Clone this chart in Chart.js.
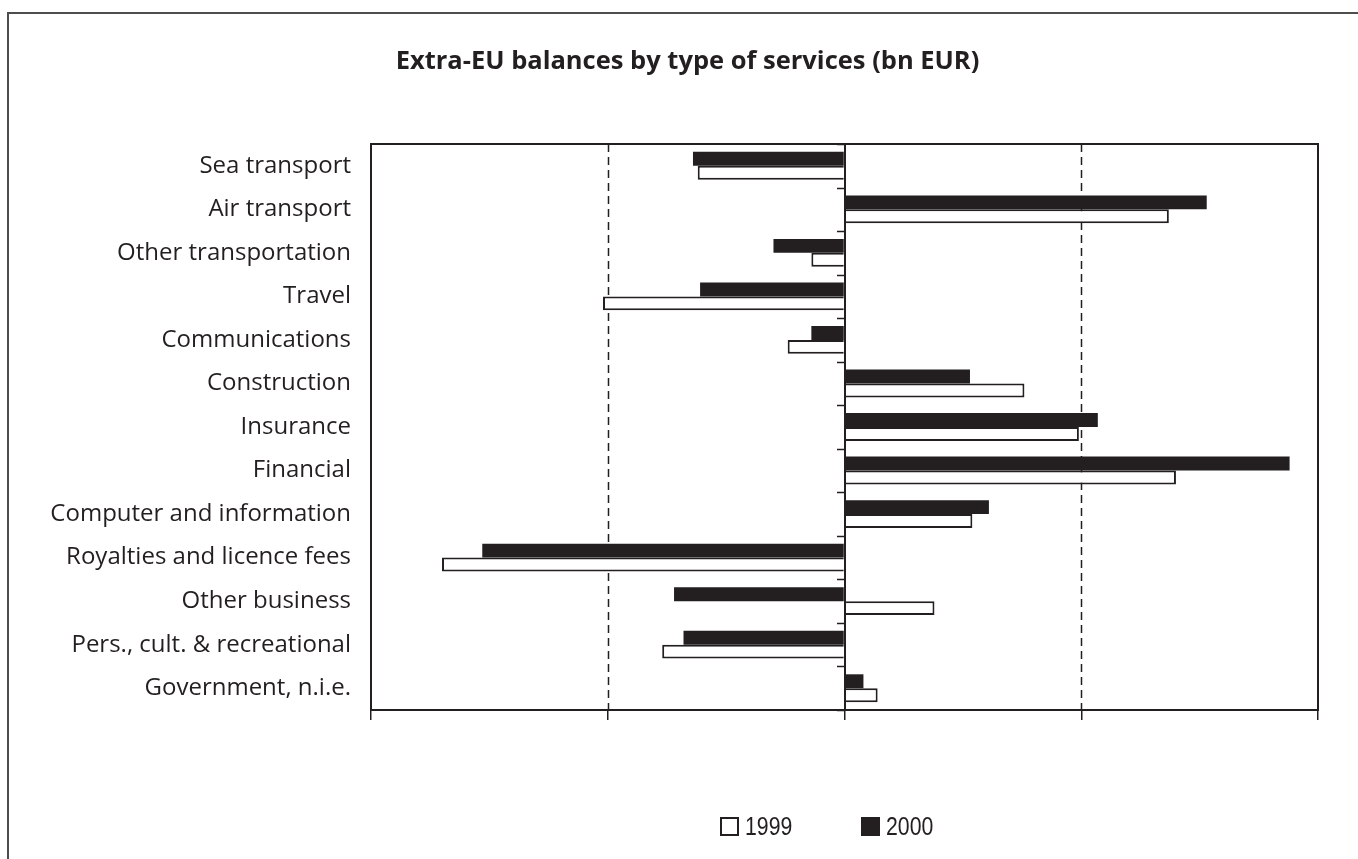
<!DOCTYPE html>
<html>
<head>
<meta charset="utf-8">
<script src="https://cdn.jsdelivr.net/npm/chart.js@4.4.0/dist/chart.umd.min.js"></script>
<style>
  html, body { margin: 0; padding: 0; background: #ffffff; }
  #wrap { position: relative; width: 1358px; height: 859px; overflow: hidden; }
  #c { position: absolute; left: 0; top: 0; }
  #legend {
    position: absolute; left: 720px; top: 813px; height: 24px;
    font-family: "Liberation Sans", Arial, sans-serif;
    font-size: 25px; color: #231f20; line-height: 1;
  }
  .item { position: relative; display: inline-block; width: 141px; height: 24px; vertical-align: top; }
  .box { position: absolute; left: 0; top: 4px; width: 19px; height: 19px; box-sizing: border-box; }
  .txt { position: absolute; left: 25px; top: 1px; transform: scaleX(0.85); transform-origin: 0 50%; white-space: nowrap; }
</style>
</head>
<body>
<div id="wrap">
  <canvas id="c" width="1358" height="859"></canvas>
  <div id="legend"></div>
</div>
<script>
// ---- data ----
const titleText = 'Extra-EU balances by type of services (bn EUR)';
const categories = [
  'Sea transport',
  'Air transport',
  'Other transportation',
  'Travel',
  'Communications',
  'Construction',
  'Insurance',
  'Financial',
  'Computer and information',
  'Royalties and licence fees',
  'Other business',
  'Pers., cult. & recreational',
  'Government, n.i.e.'
];
const seriesNames = ['1999', '2000'];
const values1999 = [-3.1, 6.85, -0.7, -5.1, -1.2, 3.8, 4.95, 7.0, 2.7, -8.5, 1.9, -3.85, 0.7];
const values2000 = [-3.2, 7.65, -1.5, -3.05, -0.7, 2.65, 5.35, 9.4, 3.05, -7.65, -3.6, -3.4, 0.4];
const xTicks = [-10, -5, 0, 5, 10];

const INK = '#231f20';

const framePlugin = {
  id: 'frame',
  beforeDraw(chart) {
    const ctx = chart.ctx;
    ctx.save();
    ctx.strokeStyle = '#4d4d4d';
    ctx.lineWidth = 2;
    ctx.beginPath();
    ctx.moveTo(8, chart.height + 5);
    ctx.lineTo(8, 13);
    ctx.lineTo(chart.width + 5, 13);
    ctx.stroke();
    ctx.restore();
  },
  beforeDatasetsDraw(chart) {
    const { ctx, chartArea: a, scales: { x } } = chart;
    ctx.save();
    ctx.strokeStyle = INK;
    ctx.lineWidth = 1.5;
    xTicks.forEach(v => {
      if (v === xTicks[0] || v === xTicks[xTicks.length - 1] || v === 0) return;
      const px = Math.round(x.getPixelForValue(v)) + 0.5;
      ctx.setLineDash([8, 5]);
      ctx.beginPath();
      ctx.moveTo(px, a.top);
      ctx.lineTo(px, a.bottom);
      ctx.stroke();
    });
    ctx.restore();
  },
  afterDatasetsDraw(chart) {
    const { ctx, chartArea: a, scales: { x, y } } = chart;
    ctx.save();
    ctx.strokeStyle = INK;
    const x0 = Math.round(x.getPixelForValue(0));
    ctx.lineWidth = 2;
    ctx.beginPath();
    ctx.moveTo(x0, a.top);
    ctx.lineTo(x0, a.bottom);
    ctx.stroke();
    ctx.lineWidth = 1.5;
    for (let i = 0; i <= categories.length; i++) {
      const py = Math.round(y.getPixelForValue(i - 0.5)) + 0.5;
      ctx.beginPath();
      ctx.moveTo(x0 - 8, py);
      ctx.lineTo(x0, py);
      ctx.stroke();
    }
    ctx.lineWidth = 2;
    ctx.strokeRect(a.left, a.top, a.right - a.left, a.bottom - a.top);
    ctx.restore();
  }
};

const chart = new Chart(document.getElementById('c'), {
  type: 'bar',
  data: {
    labels: categories,
    datasets: [
      {
        label: seriesNames[0],
        data: values1999,
        backgroundColor: '#ffffff',
        borderColor: INK,
        borderWidth: 2,
        borderSkipped: 'start',
        order: 2
      },
      {
        label: seriesNames[1],
        data: values2000,
        backgroundColor: INK,
        borderColor: INK,
        borderWidth: 0,
        order: 1
      }
    ]
  },
  options: {
    indexAxis: 'y',
    responsive: false,
    animation: false,
    devicePixelRatio: 1,
    layout: { padding: { top: 0, left: 21, right: 4, bottom: 139 } },
    categoryPercentage: 0.64,
    barPercentage: 1.0,
    scales: {
      x: {
        min: -10,
        max: 10,
        ticks: { display: false, stepSize: 5 },
        afterBuildTicks(scale) { scale.ticks = xTicks.map(v => ({ value: v })); },
        grid: {
          display: true,
          drawOnChartArea: false,
          drawTicks: true,
          tickLength: 10,
          color: INK,
          tickColor: INK,
          lineWidth: 1.5,
          tickWidth: 1.5
        },
        border: { display: false }
      },
      y: {
        offset: true,
        grid: { display: false, drawTicks: false },
        border: { display: false },
        ticks: {
          autoSkip: false,
          padding: 20,
          color: INK,
          font: { family: '"Open Sans", sans-serif', size: 24 }
        },
        afterFit(scale) { scale.width = 350; }
      },
      yRight: {
        type: 'category',
        position: 'right',
        offset: true,
        grid: { display: false, drawTicks: false },
        border: { display: false },
        ticks: { display: false },
        afterFit(scale) { scale.width = 36; }
      }
    },
    plugins: {
      legend: { display: false },
      tooltip: { enabled: false },
      title: {
        display: true,
        text: titleText,
        color: INK,
        font: { family: '"Open Sans", sans-serif', size: 25.5, weight: 'bold', lineHeight: 1.2 },
        padding: { top: 46.7, bottom: 66.7 }
      }
    }
  },
  plugins: [framePlugin]
});

// legend built from the chart's datasets
const legendEl = document.getElementById('legend');
chart.data.datasets.forEach(ds => {
  const item = document.createElement('div');
  item.className = 'item';
  const box = document.createElement('span');
  box.className = 'box';
  box.style.background = ds.backgroundColor;
  box.style.border = '2px solid ' + ds.borderColor;
  const txt = document.createElement('span');
  txt.className = 'txt';
  txt.textContent = ds.label;
  item.appendChild(box);
  item.appendChild(txt);
  legendEl.appendChild(item);
});
</script>
</body>
</html>
